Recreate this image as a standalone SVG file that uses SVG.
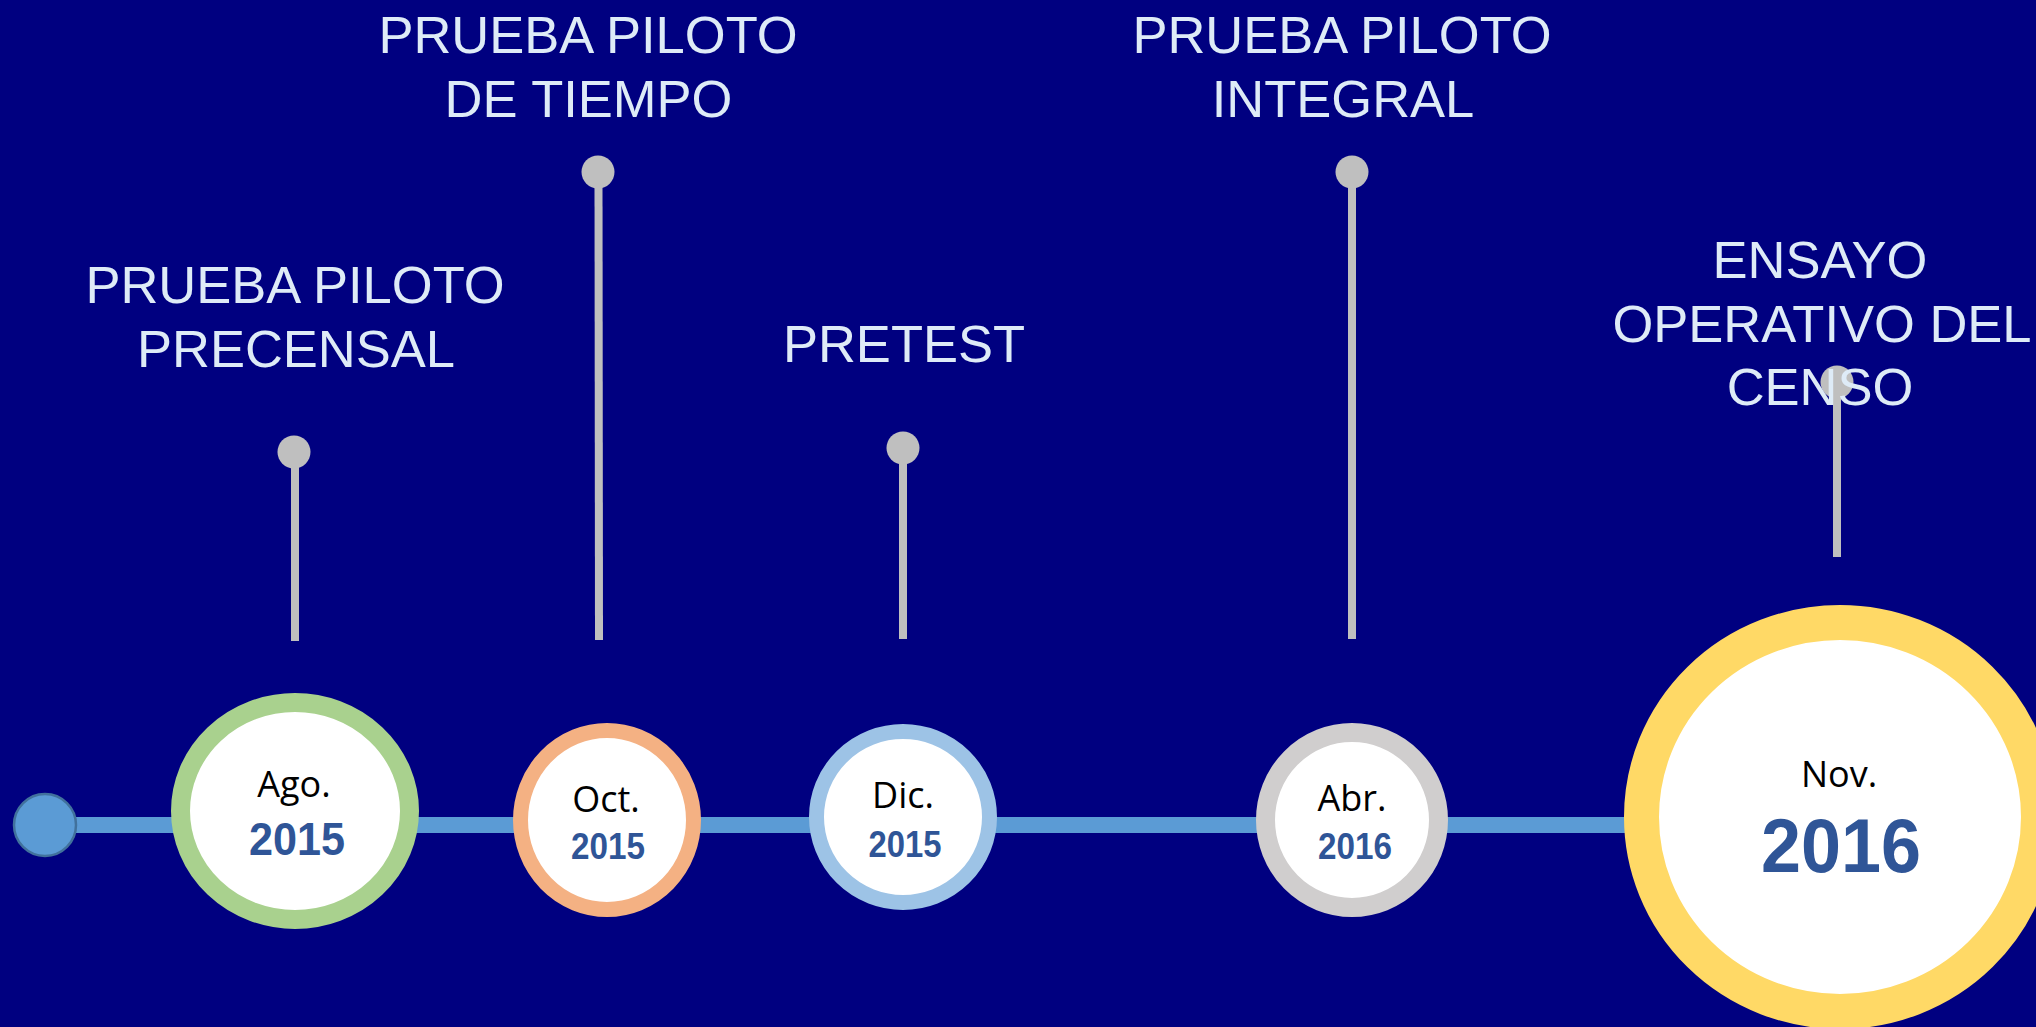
<svg xmlns="http://www.w3.org/2000/svg" width="2036" height="1027" viewBox="0 0 2036 1027">
<style>
.lbl{font-family:"Liberation Sans",Arial,sans-serif;font-size:52.5px;fill:#DEEBF7;text-anchor:middle}
.mon{font-family:"Open Sans","Liberation Sans",sans-serif;font-size:36px;fill:#000;text-anchor:middle}
.yr{font-family:"Liberation Sans",Arial,sans-serif;font-weight:bold;fill:#2F5597;text-anchor:middle}
.stem{stroke:#BFBFBF;stroke-width:8}
.ball{fill:#BFBFBF}
.ring{fill:#FFFFFF}
</style>
<rect width="2036" height="1027" fill="#000080"/>
<g id="connectors">
<line x1="45" y1="825" x2="1700" y2="825" stroke="#5B9BD5" stroke-width="16"/>
<line class="stem" x1="295" y1="452" x2="295" y2="641"/>
<line class="stem" x1="598.5" y1="172" x2="599" y2="640"/>
<line class="stem" x1="903" y1="448" x2="903" y2="639"/>
<line class="stem" x1="1352" y1="172" x2="1352" y2="639"/>
<line class="stem" x1="1837" y1="382" x2="1837" y2="557"/>
<circle class="ball" cx="294" cy="452" r="16.5"/>
<circle class="ball" cx="598" cy="172" r="16.5"/>
<circle class="ball" cx="903" cy="448" r="16.5"/>
<circle class="ball" cx="1352" cy="172" r="16.5"/>
<circle class="ball" cx="1837" cy="382" r="16.5"/>
</g>
<g id="start">
<circle cx="45" cy="825" r="31" fill="#5B9BD5" stroke="#41719C" stroke-width="2.5"/>
</g>
<g id="node-ago">
<ellipse class="ring" cx="295" cy="811" rx="114.5" ry="108.5" stroke="#A9D18E" stroke-width="19"/>
<text class="mon" x="294" y="797">Ago.</text>
<text class="yr" x="297" y="855" font-size="46" textLength="96" lengthAdjust="spacingAndGlyphs">2015</text>
<text class="lbl" x="295" y="303">PRUEBA PILOTO</text>
<text class="lbl" x="296" y="367">PRECENSAL</text>
</g>
<g id="node-oct">
<ellipse class="ring" cx="607" cy="820" rx="86.5" ry="89.5" stroke="#F4B183" stroke-width="15"/>
<text class="mon" x="606" y="812">Oct.</text>
<text class="yr" x="608" y="859" font-size="36" textLength="74" lengthAdjust="spacingAndGlyphs">2015</text>
<text class="lbl" x="588" y="53">PRUEBA PILOTO</text>
<text class="lbl" x="588.5" y="117">DE TIEMPO</text>
</g>
<g id="node-dic">
<ellipse class="ring" cx="903" cy="817" rx="86.5" ry="85.5" stroke="#9DC3E6" stroke-width="15"/>
<text class="mon" x="903" y="808">Dic.</text>
<text class="yr" x="905" y="857" font-size="37" textLength="73" lengthAdjust="spacingAndGlyphs">2015</text>
<text class="lbl" x="904" y="362">PRETEST</text>
</g>
<g id="node-abr">
<ellipse class="ring" cx="1352" cy="820" rx="86.5" ry="87.5" stroke="#D0CECE" stroke-width="19"/>
<text class="mon" x="1352" y="811">Abr.</text>
<text class="yr" x="1355" y="859" font-size="36" textLength="74" lengthAdjust="spacingAndGlyphs">2016</text>
<text class="lbl" x="1342" y="53">PRUEBA PILOTO</text>
<text class="lbl" x="1343" y="117">INTEGRAL</text>
</g>
<g id="node-nov">
<ellipse class="ring" cx="1840" cy="817" rx="198.5" ry="194.5" stroke="#FFD966" stroke-width="35"/>
<text class="mon" x="1839" y="787">Nov.</text>
<text class="yr" x="1841" y="872" font-size="76" textLength="160" lengthAdjust="spacingAndGlyphs">2016</text>
<text class="lbl" x="1820" y="278">ENSAYO</text>
<text class="lbl" x="1822" y="342">OPERATIVO DEL</text>
<text class="lbl" x="1820" y="405">CENSO</text>
</g>
</svg>
